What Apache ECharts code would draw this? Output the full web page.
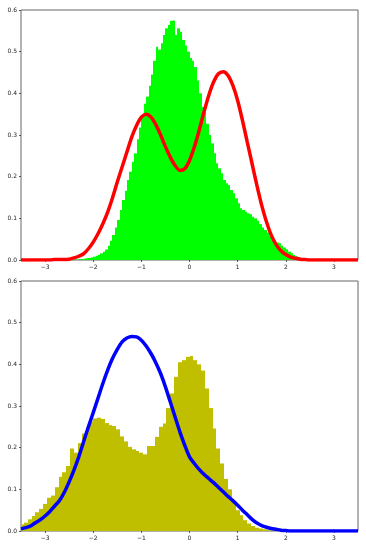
<!DOCTYPE html>
<html>
<head>
<meta charset="utf-8">
<script src="https://cdn.jsdelivr.net/npm/echarts@6/dist/echarts.min.js"></script>
<style>
  html, body { margin: 0; padding: 0; background: #fff; }
  #chart { width: 366px; height: 549px; }
</style>
</head>
<body>
<div id="chart"></div>
<script>
// top histogram (green), bins of 0.05 starting at -2.40
var greenStart = -2.40;
var greenWidth = 0.05;
var greenHeights = [
  0.001, 0.001, 0.002, 0.002, 0.003, 0.004, 0.005, 0.006, 0.008, 0.010,
  0.012, 0.016, 0.020, 0.025, 0.034, 0.046, 0.060, 0.078, 0.096, 0.120,
  0.144, 0.166, 0.192, 0.212, 0.236, 0.256, 0.290, 0.318, 0.345, 0.375,
  0.392, 0.418, 0.445, 0.478, 0.512, 0.505, 0.520, 0.540, 0.556, 0.564,
  0.574, 0.575, 0.540, 0.556, 0.548, 0.528, 0.515, 0.500, 0.485, 0.478,
  0.463, 0.431, 0.400, 0.367, 0.355, 0.327, 0.300, 0.280, 0.256, 0.232,
  0.220, 0.208, 0.192, 0.184, 0.180, 0.168, 0.160, 0.148, 0.136, 0.124,
  0.120, 0.116, 0.112, 0.110, 0.104, 0.100, 0.094, 0.086, 0.078, 0.072,
  0.066, 0.058, 0.050, 0.046, 0.042, 0.040, 0.034, 0.030, 0.026, 0.020,
  0.016, 0.012, 0.009, 0.007, 0.005, 0.004, 0.003, 0.002, 0.001, 0.001
];

// bottom histogram (olive), bins of 0.08 starting at -3.52
var oliveStart = -3.52;
var oliveWidth = 0.08;
var oliveHeights = [
  0.016, 0.020, 0.028, 0.036, 0.045, 0.053, 0.065, 0.080, 0.085, 0.105,
  0.130, 0.141, 0.156, 0.198, 0.188, 0.211, 0.234, 0.245, 0.263, 0.270,
  0.272, 0.269, 0.259, 0.254, 0.252, 0.244, 0.227, 0.215, 0.202, 0.196,
  0.192, 0.188, 0.184, 0.204, 0.204, 0.226, 0.250, 0.258, 0.295, 0.330,
  0.370, 0.405, 0.410, 0.418, 0.420, 0.410, 0.400, 0.385, 0.342, 0.295,
  0.246, 0.198, 0.162, 0.125, 0.100, 0.072, 0.050, 0.038, 0.026, 0.018,
  0.012, 0.008, 0.006, 0.004, 0.002, 0.001
];

// curves sampled every 0.1 from -3.5 to 3.5
var curveStart = -3.5;
var curveStep = 0.1;
var redCurve = [
  0.000, 0.000, 0.000, 0.000, 0.000, 0.000, 0.000, 0.001, 0.001, 0.001,
  0.002, 0.005, 0.009, 0.015, 0.027, 0.043, 0.063, 0.087, 0.115, 0.149,
  0.187, 0.223, 0.259, 0.295, 0.323, 0.343, 0.350, 0.343, 0.325, 0.300,
  0.272, 0.247, 0.227, 0.215, 0.219, 0.239, 0.271, 0.311, 0.355, 0.395,
  0.427, 0.447, 0.452, 0.443, 0.419, 0.383, 0.335, 0.283, 0.231, 0.179,
  0.131, 0.091, 0.059, 0.037, 0.022, 0.013, 0.007, 0.004, 0.002, 0.001,
  0.000, 0.000, 0.000, 0.000, 0.000, 0.000, 0.000, 0.000, 0.000, 0.000,
  0.000
];
var blueCurve = [
  0.005, 0.008, 0.012, 0.020, 0.027, 0.036, 0.047, 0.060, 0.073, 0.093,
  0.118, 0.146, 0.178, 0.214, 0.250, 0.284, 0.319, 0.354, 0.386, 0.414,
  0.436, 0.454, 0.463, 0.467, 0.466, 0.458, 0.444, 0.426, 0.404, 0.378,
  0.346, 0.310, 0.274, 0.238, 0.206, 0.178, 0.162, 0.148, 0.136, 0.126,
  0.116, 0.105, 0.094, 0.083, 0.073, 0.062, 0.050, 0.039, 0.028, 0.019,
  0.013, 0.009, 0.006, 0.004, 0.002, 0.001, 0.000, 0.000, 0.000, 0.000,
  0.000, 0.000, 0.000, 0.000, 0.000, 0.000, 0.000, 0.000, 0.000, 0.000,
  0.000
];

var xTicks = [-3, -2, -1, 0, 1, 2, 3];

function histData(start, width, heights) {
  return heights.map(function (h, i) {
    return [start + i * width, start + (i + 1) * width, h];
  });
}
function curveData(values) {
  return values.map(function (v, i) {
    return [Math.round((curveStart + i * curveStep) * 10) / 10, v];
  });
}
// snap bar edges to whole pixels so neighbouring bars touch without seams
function renderBar(params, api) {
  var p0 = api.coord([api.value(0), api.value(2)]);
  var p1 = api.coord([api.value(1), 0]);
  var x0 = Math.round(p0[0]);
  var x1 = Math.round(p1[0]);
  return {
    type: 'rect',
    shape: { x: x0, y: p0[1], width: x1 - x0, height: p1[1] - p0[1] },
    style: { fill: api.visual('color') }
  };
}

var labelStyle = { fontFamily: 'DejaVu Sans', fontSize: 6, color: '#222' };
function xAxisFor(idx) {
  return {
    type: 'value', gridIndex: idx, min: -3.5, max: 3.5,
    axisLine: { show: false, onZero: false },
    axisTick: { show: true, length: 2, customValues: xTicks, lineStyle: { color: '#333', width: 0.8 } },
    axisLabel: Object.assign({
      margin: 4,
      customValues: xTicks,
      formatter: function (v) { return v < 0 ? '\u2212' + Math.abs(v) : String(v); }
    }, labelStyle),
    splitLine: { show: false }
  };
}
function yAxisFor(idx) {
  return {
    type: 'value', gridIndex: idx, min: 0, max: 0.6, interval: 0.1,
    axisLine: { show: false, onZero: false },
    axisTick: { show: true, length: 2, lineStyle: { color: '#333', width: 0.8 } },
    axisLabel: Object.assign({
      margin: 4,
      formatter: function (v) { return v.toFixed(1); }
    }, labelStyle),
    splitLine: { show: false }
  };
}

var chart = echarts.init(document.getElementById('chart'), null, { renderer: 'canvas' });

chart.setOption({
  animation: false,
  backgroundColor: '#fff',
  grid: [
    { left: 21, top: 10, width: 337, height: 250, show: true, borderColor: '#666', borderWidth: 1, backgroundColor: 'transparent' },
    { left: 21, top: 281, width: 337, height: 250, show: true, borderColor: '#666', borderWidth: 1, backgroundColor: 'transparent' }
  ],
  xAxis: [xAxisFor(0), xAxisFor(1)],
  yAxis: [yAxisFor(0), yAxisFor(1)],
  series: [
    {
      type: 'custom', xAxisIndex: 0, yAxisIndex: 0, clip: true,
      renderItem: renderBar,
      itemStyle: { color: '#00ff00' },
      data: histData(greenStart, greenWidth, greenHeights)
    },
    {
      type: 'line', xAxisIndex: 0, yAxisIndex: 0,
      data: curveData(redCurve),
      smooth: 0.3, showSymbol: false,
      lineStyle: { color: '#ff0000', width: 3.5 },
      z: 5
    },
    {
      type: 'custom', xAxisIndex: 1, yAxisIndex: 1, clip: true,
      renderItem: renderBar,
      itemStyle: { color: '#bfbf00' },
      data: histData(oliveStart, oliveWidth, oliveHeights)
    },
    {
      type: 'line', xAxisIndex: 1, yAxisIndex: 1,
      data: curveData(blueCurve),
      smooth: 0.3, showSymbol: false,
      lineStyle: { color: '#0000ff', width: 3.5 },
      z: 5
    }
  ]
});

window.addEventListener('resize', function () {
  setTimeout(function () { chart.resize(); }, 200);
});
</script>
</body>
</html>
